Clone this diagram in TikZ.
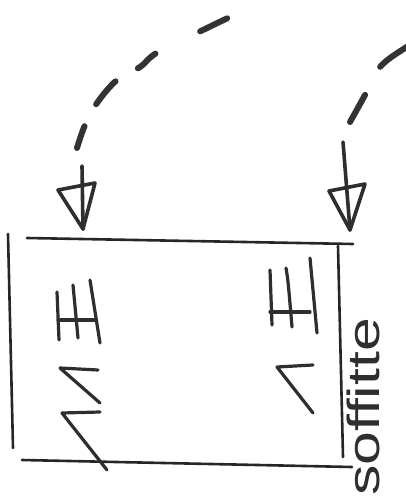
\documentclass[tikz,border=0pt]{standalone}
\usepackage{fontspec}
\newfontfamily\handfont{Liberation Sans}
\begin{document}
\begin{tikzpicture}[x=1pt,y=-1pt,line cap=round,line join=round,
  ink/.style={draw=black!82,line width=3.2pt},
  boxline/.style={draw=black!85,line width=2.6pt},
  dashline/.style={draw=black!80,line width=6pt},
  headline/.style={draw=black!82,line width=3.6pt}]
\fill[white] (0,0) rectangle (405,502);
\useasboundingbox (0,0) rectangle (405,502);
% room outline
\draw[boxline] (27,238) -- (353,244);
\draw[boxline] (8,234) -- (13,448);
\draw[boxline] (22,460) -- (352,467);
\draw[boxline] (338,246) -- (343,457);
% left marks
\draw[ink] (57,292) -- (59,340);
\draw[ink] (73,285) -- (78,338);
\draw[ink] (90,280) -- (100,343);
\draw[ink] (58,320) -- (95,320);
\draw[ink] (98,370) -- (60,368) -- (100,403);
\draw[ink] (100,412) -- (62,413) -- (107,470);
% right marks
\draw[ink] (270,270) -- (272,325);
\draw[ink] (286,268) .. controls (288,280) .. (292,327);
\draw[ink] (310,258) -- (317,333);
\draw[ink] (270,312) -- (310,312);
\draw[ink] (313,365) -- (277,367) -- (313,413);
% label
\node[rotate=90,inner sep=0pt,text=black!82,font=\handfont\fontsize{45}{45}\selectfont] (lbl) at (363,407) {\scalebox{1.35}[1]{soffitte}};
% arrows
\coordinate (tipL) at (83,229);
\coordinate (topL) at (82,166);
\coordinate (tipR) at (350,230);
\coordinate (topR) at (343,142);
\draw[dashline,dash pattern=on 23pt off 25pt on 30pt off 26pt on 23pt off 50pt on 30pt off 200pt]
  plot[smooth,tension=0.6] coordinates {(77,148) (85,125) (97,103) (117,80) (140,67) (158,52) (203,30) (230,17) (250,8)};
\draw[dashline,dash pattern=on 31pt off 32pt on 40pt off 100pt]
  plot[smooth,tension=0.6] coordinates {(350,122) (365,95) (380,67) (405,48) (420,40)};
\draw[headline] (topL) -- (tipL);
\draw[headline] (58,190) -- (tipL) -- (95,183) -- cycle;
\draw[headline] (topR) -- (tipR);
\draw[headline] (329,191) -- (tipR) -- (365,184) -- cycle;
\end{tikzpicture}
\end{document}
